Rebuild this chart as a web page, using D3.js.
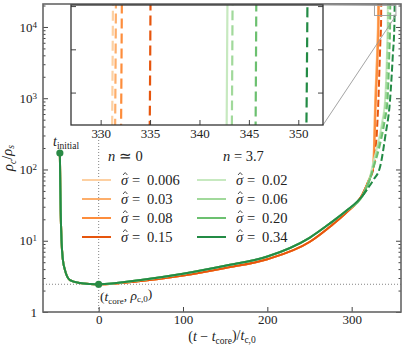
<!DOCTYPE html>
<html>
<head>
<meta charset="utf-8">
<script src="https://cdn.jsdelivr.net/npm/d3@7"></script>
<style>
body { margin: 0; background: #fff; }
</style>
</head>
<body>
<svg id="chart" width="407" height="349"></svg>
<script>
// initial condition and core formation
var tInit = -46, rhoInit = 170;
var tCore = 0, rhoCore = 2.45;

// common fast relaxation after t_initial
var earlyT = [-46, -45.5, -45, -44, -42.5, -40, -34, -22, -10, 0];
var earlyRho = [170, 60, 25, 10, 5.5, 3.9, 2.8, 2.55, 2.47, 2.45];

// slow contraction phase (nearly the same for every sigma of a family)
var midT = [50, 100, 150, 200, 250, 275, 294, 313];
var midRhoN0 = [2.72, 3.25, 4.15, 5.5, 9.6, 16, 25, 45];
var midRhoN37 = [2.82, 3.45, 4.45, 6.0, 11, 17.8, 26.5, 43];

// legend labels
var sigmaN0 = ["0.006", "0.03", "0.08", "0.15"];
var sigmaN37 = ["0.02", "0.06", "0.20", "0.34"];

// late runaway (gravothermal catastrophe), one list per sigma
var lateTN0 = [
  [320, 325.4, 327.8, 330.2, 331.1, 331.3],
  [320, 325.5, 328.1, 330.5, 331.4, 331.6],
  [320, 325.7, 328.6, 331.1, 332.0, 332.2],
  [320, 326.5, 331.7, 334.0, 334.9, 335.1]
];
var lateRhoN0 = [
  [70, 109, 940, 5000, 12000, 25000],
  [70, 108, 920, 5000, 12000, 25000],
  [69, 108, 900, 5000, 12000, 25000],
  [68, 115, 940, 6000, 12000, 25000]
];
var lateTN37 = [
  [322, 324.5, 330, 336, 339.6, 341.8, 342.7, 342.9],
  [322, 325, 331, 337, 340.4, 342.4, 343.2, 343.4],
  [322, 326, 333, 339, 342.5, 344.6, 345.6, 345.8],
  [318, 326, 333.7, 340, 345.5, 348.8, 350.7, 351.0]
];
var lateRhoN37 = [
  [80, 109, 200, 450, 940, 4000, 11000, 25000],
  [78, 108, 200, 450, 940, 4000, 11000, 25000],
  [75, 108, 210, 470, 940, 4000, 11000, 25000],
  [52, 72, 109, 300, 940, 4000, 11000, 25000]
];

// axis ticks
var xTicks = [0, 100, 200, 300];
var yTicks = [1, 10, 100, 1000, 10000];
var insetXTicks = [330, 335, 340, 345, 350];
var insetYTicks = [16000, 18000, 20000];

// styles
var FONT = "'Liberation Serif', 'Times New Roman', serif";
var colN0 = ["#fdd0a2", "#fdae6b", "#fd8d3c", "#e6550d"];
var colN37 = ["#c7e9c0", "#a1d99b", "#6cc070", "#238b45"];
var dashN0 = [false, false, false, true];
var dashN37 = [false, true, true, true];
var insetDashN0 = ["10,5", "10,5", "10,5", "10,5"];
var insetDashN37 = [null, "10,5", "10,5", "10,5"];
var dashFrom = 318; // dashed style only for the runaway part

function buildSeries(midRho, lateT, lateRho) {
  var pts = [];
  earlyT.forEach(function(t, i) { pts.push({t: t, rho: earlyRho[i]}); });
  midT.forEach(function(t, i) {
    if (t < lateT[0]) pts.push({t: t, rho: midRho[i]});
  });
  lateT.forEach(function(t, i) { pts.push({t: t, rho: lateRho[i]}); });
  return pts;
}

var series = [];
sigmaN0.forEach(function(s, i) {
  series.push({label: s, color: colN0[i], dash: dashN0[i], insetDash: insetDashN0[i],
    pts: buildSeries(midRhoN0, lateTN0[i], lateRhoN0[i])});
});
sigmaN37.forEach(function(s, i) {
  series.push({label: s, color: colN37[i], dash: dashN37[i], insetDash: insetDashN37[i],
    pts: buildSeries(midRhoN37, lateTN37[i], lateRhoN37[i])});
});

var svg = d3.select("#chart");
var L = 43, R = 401, T = 4, B = 312;

var x = d3.scaleLinear().domain([-66, 358.5]).range([L, R]);
var y = d3.scaleLog().domain([1, 2.1e4]).range([B, T]);

svg.append("defs").append("clipPath").attr("id", "clipMain")
  .append("rect").attr("x", L).attr("y", T).attr("width", R - L).attr("height", B - T);

// reference lines
svg.append("line")
  .attr("x1", L).attr("x2", R).attr("y1", y(rhoCore)).attr("y2", y(rhoCore))
  .attr("stroke", "#666").attr("stroke-width", 0.8).attr("stroke-dasharray", "1,2");
svg.append("line")
  .attr("x1", x(tCore)).attr("x2", x(tCore)).attr("y1", 131).attr("y2", B)
  .attr("stroke", "#666").attr("stroke-width", 0.8).attr("stroke-dasharray", "1,2");

var line = d3.line()
  .x(function(d) { return x(d.t); })
  .y(function(d) { return y(d.rho); })
  .curve(d3.curveMonotoneX);

var gCurves = svg.append("g").attr("clip-path", "url(#clipMain)");
series.forEach(function(s) {
  // solid body of the curve; dashed runs switch to dashes at the runaway
  var body = s.dash ? s.pts.filter(function(p) { return p.t <= dashFrom + 5; }) : s.pts;
  gCurves.append("path")
    .attr("d", line(body))
    .attr("fill", "none").attr("stroke", s.color).attr("stroke-width", 2);
  if (s.dash) {
    gCurves.append("path")
      .attr("d", line(s.pts.filter(function(p) { return p.t >= dashFrom - 20; })))
      .attr("fill", "none").attr("stroke", s.color).attr("stroke-width", 2)
      .attr("stroke-dasharray", "7,3");
  }
});

// markers
svg.selectAll("circle.mark").data([[tInit, rhoInit], [tCore, rhoCore]]).enter()
  .append("circle").attr("class", "mark")
  .attr("cx", function(d) { return x(d[0]); })
  .attr("cy", function(d) { return y(d[1]); })
  .attr("r", 3.6).attr("fill", "#2a8a45");

// axes (ticks inward)
var minors = [];
[1, 10, 100, 1000, 10000].forEach(function(p) {
  for (var k = 2; k <= 9; k++) if (p * k <= 2.1e4) minors.push(p * k);
});

function supLabels(sel) {
  sel.selectAll(".tick text").each(function(d) {
    var t = d3.select(this).text(null);
    if (d === 1) { t.text("1"); return; }
    var e = Math.round(Math.log10(d));
    t.append("tspan").text("10");
    t.append("tspan").attr("dy", "-0.45em").attr("font-size", "9px").text(e);
  });
}

var gl = svg.append("g").attr("transform", "translate(" + L + ",0)")
  .call(d3.axisLeft(y).tickValues(yTicks).tickSize(-5).tickPadding(6));
gl.call(supLabels);
svg.append("g").attr("transform", "translate(" + L + ",0)")
  .call(d3.axisLeft(y).tickValues(minors).tickSize(-2.5).tickFormat(""));
svg.append("g").attr("transform", "translate(" + R + ",0)")
  .call(d3.axisRight(y).tickValues(yTicks).tickSize(-5).tickFormat(""));
svg.append("g").attr("transform", "translate(" + R + ",0)")
  .call(d3.axisRight(y).tickValues(minors).tickSize(-2.5).tickFormat(""));
svg.append("g").attr("transform", "translate(0," + B + ")")
  .call(d3.axisBottom(x).tickValues(xTicks).tickSize(-5).tickPadding(3).tickFormat(d3.format("d")));

svg.selectAll(".domain").remove();
svg.selectAll(".tick line").attr("stroke", "#444");
svg.selectAll(".tick text").attr("font-size", "13px").attr("fill", "#222");

svg.append("rect").attr("x", L).attr("y", T).attr("width", R - L).attr("height", B - T)
  .attr("fill", "none").attr("stroke", "#666").attr("stroke-width", 1.6);

// axis labels
var yl = svg.append("text").attr("transform", "translate(13," + ((T + B) / 2) + ") rotate(-90)")
  .attr("text-anchor", "middle").attr("font-size", "14.5px").attr("fill", "#222");
yl.append("tspan").attr("font-style", "italic").text("ρ");
yl.append("tspan").attr("font-size", "9.5px").attr("font-style", "italic").attr("dy", "0.3em").text("c");
yl.append("tspan").attr("dy", "-0.3em").text("/");
yl.append("tspan").attr("font-style", "italic").text("ρ");
yl.append("tspan").attr("font-size", "9.5px").attr("font-style", "italic").attr("dy", "0.3em").text("s");

var xl = svg.append("text").attr("x", (L + R) / 2).attr("y", 341)
  .attr("text-anchor", "middle").attr("font-size", "14px").attr("fill", "#222");
xl.append("tspan").text("(");
xl.append("tspan").attr("font-style", "italic").text("t");
xl.append("tspan").text(" − ");
xl.append("tspan").attr("font-style", "italic").text("t");
xl.append("tspan").attr("font-size", "9.5px").attr("dy", "0.3em").text("core");
xl.append("tspan").attr("dy", "-0.3em").text(")/");
xl.append("tspan").attr("font-style", "italic").text("t");
xl.append("tspan").attr("font-size", "9.5px").attr("dy", "0.3em").text("c,0");

// annotations
var ti = svg.append("text").attr("x", 53).attr("y", 146).attr("font-size", "14px").attr("fill", "#222");
ti.append("tspan").attr("font-style", "italic").text("t");
ti.append("tspan").attr("font-size", "9.5px").attr("dy", "0.3em").text("initial");

var tc = svg.append("text").attr("x", 100).attr("y", 301).attr("font-size", "13.5px").attr("fill", "#222");
tc.append("tspan").text("(");
tc.append("tspan").attr("font-style", "italic").text("t");
tc.append("tspan").attr("font-size", "9px").attr("dy", "0.3em").text("core");
tc.append("tspan").attr("dy", "-0.3em").text(", ");
tc.append("tspan").attr("font-style", "italic").text("ρ");
tc.append("tspan").attr("font-size", "9px").attr("dy", "0.3em").text("c,0");
tc.append("tspan").attr("dy", "-0.3em").text(")");

// legend
function legendHead(xp, label, val) {
  var t = svg.append("text").attr("x", xp).attr("y", 161).attr("font-size", "14.5px").attr("fill", "#222");
  t.append("tspan").attr("font-style", "italic").text("n");
  t.append("tspan").text(" " + label + " " + val);
}
legendHead(108, "≃", "0");
legendHead(223, "=", "3.7");

var rowY = [180, 199, 218, 237];
function legendCol(x0, labels, cols) {
  labels.forEach(function(s, i) {
    var by = rowY[i] + 4.5, tx = x0 + 39;
    svg.append("line").attr("x1", x0).attr("x2", x0 + 29)
      .attr("y1", rowY[i]).attr("y2", rowY[i])
      .attr("stroke", cols[i]).attr("stroke-width", 2);
    var t = svg.append("text").attr("x", tx).attr("y", by)
      .attr("font-size", "14.5px").attr("fill", "#222");
    t.append("tspan").attr("font-style", "italic").text("σ");
    t.append("tspan").attr("x", tx + 11).text("=");
    t.append("tspan").attr("x", tx + 26).text(s);
    // hat over sigma
    svg.append("path")
      .attr("d", "M" + (tx + 2) + "," + (by - 9.5) + "l2.2,-2.4l2.2,2.4")
      .attr("fill", "none").attr("stroke", "#222").attr("stroke-width", 0.8);
  });
}
legendCol(82, sigmaN0, colN0);
legendCol(197, sigmaN37, colN37);

// inset
var IL = 71, IR = 323, IT = 5, IB = 125;
var xi = d3.scaleLinear().domain([327, 352.5]).range([IL, IR]);
var yi = d3.scaleLinear().domain([14500, 20050]).range([IB, IT]);

// zoom box + connectors
svg.append("rect")
  .attr("x", x(327)).attr("y", y(20050))
  .attr("width", x(352.5) - x(327)).attr("height", y(14500) - y(20050))
  .attr("fill", "none").attr("stroke", "#999").attr("stroke-width", 0.9);
svg.append("line").attr("x1", IR).attr("y1", IB).attr("x2", x(352.5)).attr("y2", y(14500))
  .attr("stroke", "#999").attr("stroke-width", 0.9);
svg.append("line").attr("x1", IR).attr("y1", IT).attr("x2", x(327)).attr("y2", y(20050))
  .attr("stroke", "#999").attr("stroke-width", 0.9);

svg.append("rect").attr("x", IL).attr("y", IT).attr("width", IR - IL).attr("height", IB - IT)
  .attr("fill", "#fff");
svg.select("defs").append("clipPath").attr("id", "clipInset")
  .append("rect").attr("x", IL).attr("y", IT).attr("width", IR - IL).attr("height", IB - IT);

var lineI = d3.line()
  .x(function(d) { return xi(d.t); })
  .y(function(d) { return yi(d.rho); })
  .curve(d3.curveMonotoneX);

svg.append("g").attr("clip-path", "url(#clipInset)")
  .selectAll("path").data(series).enter().append("path")
  .attr("d", function(d) { return lineI(d.pts.filter(function(p) { return p.t > 300; })); })
  .attr("fill", "none")
  .attr("stroke", function(d) { return d.color; })
  .attr("stroke-width", 2.2)
  .attr("stroke-dasharray", function(d) { return d.insetDash; });

var ib = svg.append("g").attr("transform", "translate(0," + IB + ")")
  .call(d3.axisBottom(xi).tickValues(insetXTicks).tickSize(-5).tickPadding(4).tickFormat(d3.format("d")));
svg.append("g").attr("transform", "translate(" + IL + ",0)")
  .call(d3.axisLeft(yi).tickValues(insetYTicks).tickSize(-5).tickFormat(""));
svg.append("g").attr("transform", "translate(" + IR + ",0)")
  .call(d3.axisRight(yi).tickValues(insetYTicks).tickSize(-5).tickFormat(""));
svg.selectAll(".domain").remove();
svg.selectAll(".tick line").attr("stroke", "#444");
ib.selectAll(".tick text").attr("font-size", "13px").attr("fill", "#222");

svg.append("rect").attr("x", IL).attr("y", IT).attr("width", IR - IL).attr("height", IB - IT)
  .attr("fill", "none").attr("stroke", "#333").attr("stroke-width", 1.3);

// one serif face for every label
svg.selectAll("text").style("font-family", FONT);
</script>
</body>
</html>
